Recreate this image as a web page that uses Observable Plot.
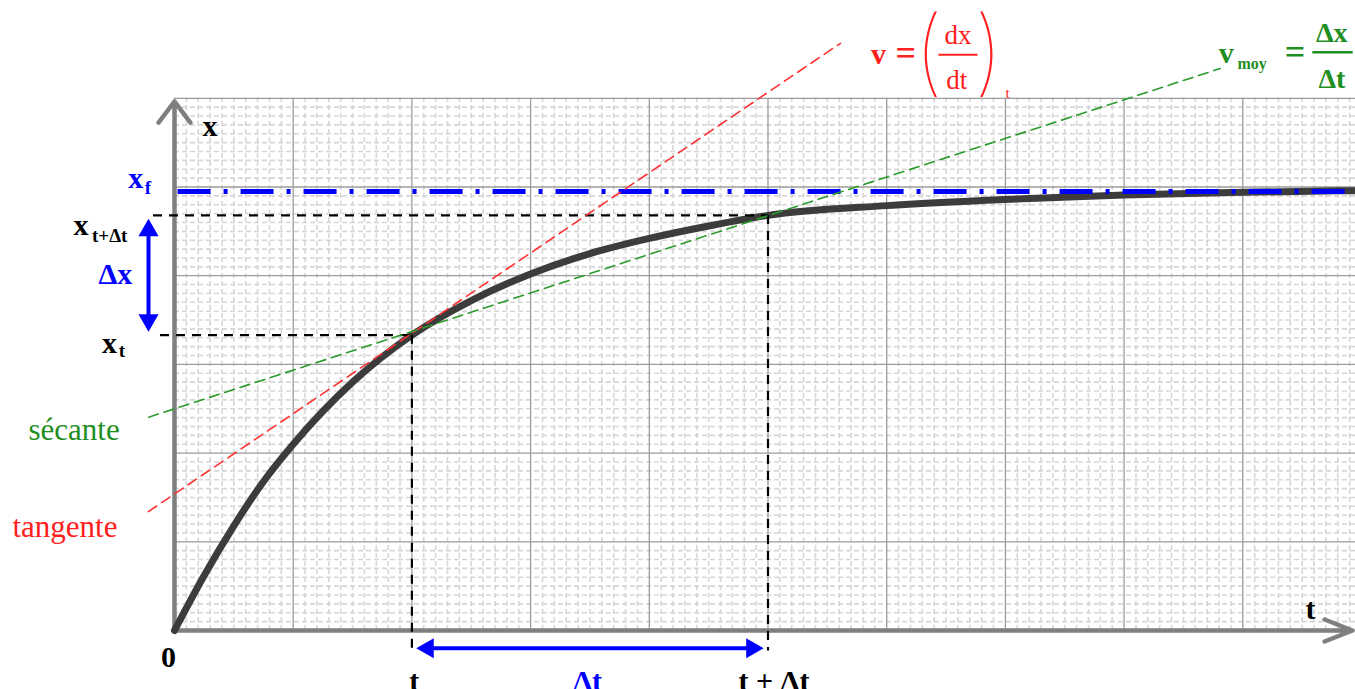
<!DOCTYPE html>
<html><head><meta charset="utf-8">
<script src="https://cdn.jsdelivr.net/npm/d3@7"></script>
<script src="https://cdn.jsdelivr.net/npm/@observablehq/plot@0.6"></script>
<style>html,body{margin:0;padding:0;background:#fff;overflow:hidden}</style>
</head><body><div id="chart"></div>
<script>
// ---- data (in grid units) ----
const times     = [0, 0.25, 0.5, 0.75, 1, 1.5, 2, 2.5, 3, 3.5, 4, 4.5, 5, 6, 7, 8, 9, 10];
const positions = [0, 0.62, 1.18, 1.68, 2.1, 2.8, 3.33, 3.72, 4.02, 4.25, 4.42, 4.56, 4.68, 4.79, 4.86, 4.91, 4.94, 4.96];
const xFinal = 4.95;
const tStart = 2, tEnd = 5;          // t and t+Δt
const xStart = 3.33, xEnd = 4.68;    // x_t and x_{t+Δt}
const tangentPts = [{t: -0.22, x: 1.34}, {t: 5.61, x: 6.62}];
const secantPts  = [{t: -0.217, x: 2.405}, {t: 8.81, x: 6.336}];
const majorT = d3.range(0, 11);
const majorX = d3.range(0, 7);
const minorT = d3.range(0, 100).filter(i => i % 10 !== 0).map(i => i / 10);
const minorX = d3.range(0, 60).filter(i => i % 10 !== 0).map(i => i / 10);

const curve = times.map((t, i) => ({t, x: positions[i]}));

// annotation anchors (grid units)
const guideLow = -0.2;       // level of the Δt arrow / dashed ends
const dxArrowT = -0.219;     // t-position of the Δx arrow
const hGuideStarts = {upper: -0.177, lower: -0.118};

const serif = "Liberation Serif, Times New Roman, serif";
const BLUE = "#0000ff", RED = "#ff2020", GREEN = "#1f8f1f", GREENLINE = "#2a9a2a";

function label(rows, style) {
  return Plot.text(rows, {x: "t", y: "x", text: "s", fontFamily: serif, lineAnchor: "bottom", ...style});
}

const marks = [
  // grid
  Plot.ruleX(minorT, {y1: 0, y2: 6, stroke: "#d6d6d6", strokeWidth: 1.6, strokeDasharray: "5,3"}),
  Plot.ruleY(minorX, {x1: 0, x2: 10, stroke: "#d6d6d6", strokeWidth: 1.6, strokeDasharray: "5,3"}),
  Plot.ruleX(majorT, {y1: 0, y2: 6, stroke: "#9c9c9c", strokeWidth: 1.3}),
  Plot.ruleY(majorX, {x1: 0, x2: 10, stroke: "#9c9c9c", strokeWidth: 1.3}),
  // axes with arrows
  Plot.arrow([{}], {x1: () => 0, y1: () => 0, x2: () => 0, y2: () => 5.964, stroke: "#7f7f7f", strokeWidth: 4.5, headAngle: 74, headLength: 8.8}),
  Plot.arrow([{}], {x1: () => 0, y1: () => 0, x2: () => 9.924, y2: () => 0, stroke: "#7f7f7f", strokeWidth: 4.5, headAngle: 43, headLength: 10}),
  // curve
  Plot.line(curve, {x: "t", y: "x", curve: "monotone-x", stroke: "#3c3c3c", strokeWidth: 7, strokeLinecap: "round"}),
  // x_f asymptote
  Plot.ruleY([xFinal], {x1: 0.03, x2: 10, stroke: BLUE, strokeWidth: 5, strokeDasharray: "33,13,4,13"}),
  // dashed guides
  Plot.ruleY([xEnd], {x1: hGuideStarts.upper, x2: tEnd, stroke: "#000", strokeWidth: 2.2, strokeDasharray: "9,7"}),
  Plot.ruleY([xStart], {x1: hGuideStarts.lower, x2: tStart, stroke: "#000", strokeWidth: 2.2, strokeDasharray: "9,7"}),
  Plot.ruleX([tStart], {y1: xStart, y2: guideLow - 0.03, stroke: "#000", strokeWidth: 2.2, strokeDasharray: "9,7"}),
  Plot.ruleX([tEnd], {y1: xEnd, y2: guideLow - 0.03, stroke: "#000", strokeWidth: 2.2, strokeDasharray: "9,7"}),
  // tangent & secant
  Plot.line(tangentPts, {x: "t", y: "x", stroke: "#ff3030", strokeWidth: 1.6, strokeDasharray: "10,6"}),
  Plot.line(secantPts, {x: "t", y: "x", stroke: GREENLINE, strokeWidth: 1.6, strokeDasharray: "10,6"}),
  // Δt arrow
  Plot.ruleY([guideLow], {x1: tStart, x2: tEnd, insetLeft: 20, insetRight: 20, stroke: BLUE, strokeWidth: 4}),
  Plot.dot([{t: tStart, x: guideLow}], {x: "t", y: "x", symbol: "triangle", r: 7.5, fill: BLUE, rotate: -90, dx: 16}),
  Plot.dot([{t: tEnd, x: guideLow}], {x: "t", y: "x", symbol: "triangle", r: 7.5, fill: BLUE, rotate: 90, dx: -16}),
  // Δx arrow
  Plot.ruleX([dxArrowT], {y1: xEnd, y2: xStart, insetTop: 18, insetBottom: 18, stroke: BLUE, strokeWidth: 4}),
  Plot.dot([{t: dxArrowT, x: xEnd}], {x: "t", y: "x", symbol: "triangle", r: 7.5, fill: BLUE, rotate: 0, dy: 15}),
  Plot.dot([{t: dxArrowT, x: xStart}], {x: "t", y: "x", symbol: "triangle", r: 7.5, fill: BLUE, rotate: 180, dy: -15}),

  // labels: black bold
  label([{s: "x", t: 0.30, x: 5.58}, {s: "0", t: -0.05, x: -0.41}, {s: "t", t: 9.57, x: 0.135},
         {s: "t", t: 2.02, x: -0.68}, {s: "t + Δt", t: 5.05, x: -0.68}],
        {fontSize: 30, fontWeight: "bold", fill: "#000", textAnchor: "middle"}),
  label([{s: "x", t: -0.85, x: 4.46}, {s: "x", t: -0.61, x: 3.13}],
        {fontSize: 30, fontWeight: "bold", fill: "#000", textAnchor: "start"}),
  label([{s: "t+Δt", t: -0.695, x: 4.38}, {s: "t", t: -0.47, x: 3.08}],
        {fontSize: 19, fontWeight: "bold", fill: "#000", textAnchor: "start"}),
  // blue
  label([{s: "x", t: -0.39, x: 4.99}, {s: "Δx", t: -0.64, x: 3.91}],
        {fontSize: 30, fontWeight: "bold", fill: BLUE, textAnchor: "start"}),
  label([{s: "f", t: -0.25, x: 4.92}], {fontSize: 19, fontWeight: "bold", fill: BLUE, textAnchor: "start"}),
  label([{s: "Δt", t: 3.48, x: -0.68}], {fontSize: 30, fontWeight: "bold", fill: BLUE, textAnchor: "middle"}),
  // green / red words
  label([{s: "sécante", t: -1.23, x: 2.15}], {fontSize: 31, fill: GREEN, textAnchor: "start"}),
  label([{s: "tangente", t: -1.365, x: 1.05}], {fontSize: 31, fill: RED, textAnchor: "start"}),

  // red formula v = (dx/dt)_t
  label([{s: "v", t: 5.93, x: 6.39}], {fontSize: 30, fontWeight: "bold", fill: RED, textAnchor: "middle"}),
  label([{s: "=", t: 6.16, x: 6.38}], {fontSize: 36, fontWeight: "bold", fill: RED, textAnchor: "middle"}),
  label([{s: "dx", t: 6.60, x: 6.61}, {s: "dt", t: 6.59, x: 6.10}], {fontSize: 27, fill: RED, textAnchor: "middle"}),
  Plot.ruleY([6.49], {x1: 6.44, x2: 6.77, stroke: RED, strokeWidth: 2}),
  label([{s: "(", t: 6.352, x: 6.16}, {s: ")", t: 6.858, x: 6.16}], {fontSize: 94, fontFamily: "Inter, sans-serif", fontWeight: 100, fill: RED, textAnchor: "middle"}),
  label([{s: "t", t: 7.0, x: 6.0}], {fontSize: 15, fill: RED, textAnchor: "start"}),

  // green formula v_moy = Δx/Δt
  label([{s: "v", t: 8.86, x: 6.40}], {fontSize: 30, fontWeight: "bold", fill: GREEN, textAnchor: "middle"}),
  label([{s: "=", t: 9.44, x: 6.39}], {fontSize: 36, fontWeight: "bold", fill: GREEN, textAnchor: "middle"}),
  label([{s: "moy", t: 8.955, x: 6.335}], {fontSize: 16, fontWeight: "bold", fill: GREEN, textAnchor: "start"}),
  label([{s: "Δx", t: 9.75, x: 6.63}, {s: "Δt", t: 9.75, x: 6.12}], {fontSize: 28, fontWeight: "bold", fill: GREEN, textAnchor: "middle"}),
  Plot.ruleY([6.52], {x1: 9.59, x2: 9.93, stroke: GREEN, strokeWidth: 2.5})
];

const chart = Plot.plot({
  width: 1355, height: 689,
  margin: 0,
  x: {domain: [0, 10], range: [174, 1361], axis: null},
  y: {domain: [0, 6], range: [630, 97.8], axis: null},
  style: {background: "#fff", overflow: "hidden"},
  marks
});
document.getElementById("chart").appendChild(chart);
</script>
</body></html>
